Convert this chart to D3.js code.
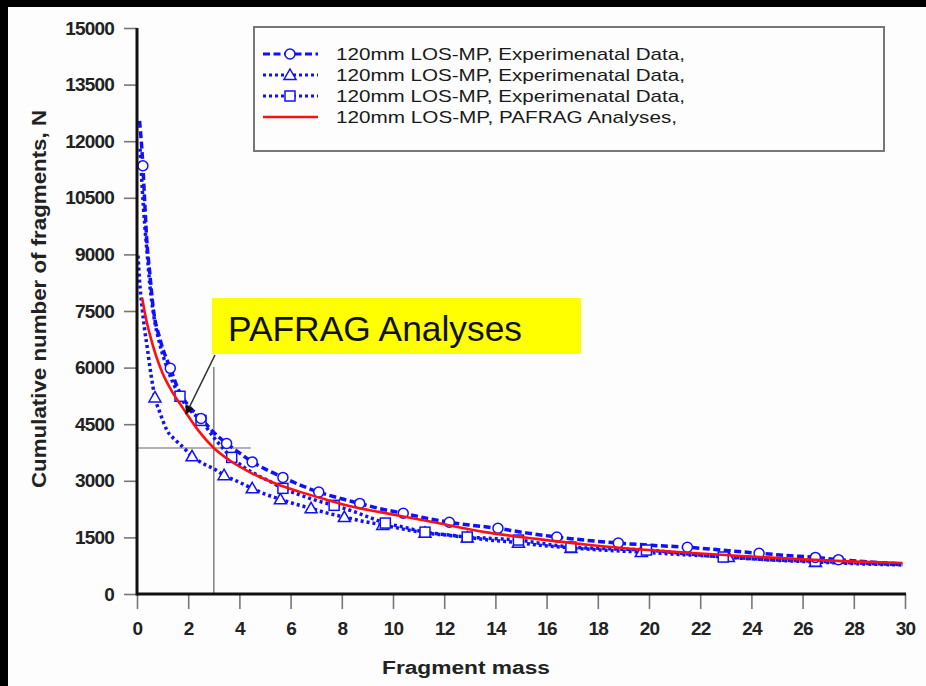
<!DOCTYPE html>
<html>
<head>
<meta charset="utf-8">
<script src="https://cdn.jsdelivr.net/npm/d3@7"></script>
<style>
  body { margin: 0; background: #000; }
  svg { display: block; }
  .tick text { font-family: "Liberation Sans", Arial, sans-serif; font-weight: bold; font-size: 19px; fill: #222; letter-spacing: -0.8px; }
  .tick line { stroke: #777; stroke-width: 1.6; }
  .legend text { font-family: "Liberation Sans", Arial, sans-serif; font-size: 17px; fill: #1a1a1a; }
</style>
</head>
<body>
<svg id="chart" width="926" height="686"></svg>
<script>
// tick labels
var xTicks = [0, 2, 4, 6, 8, 10, 12, 14, 16, 18, 20, 22, 24, 26, 28, 30];
var yTicks = [0, 1500, 3000, 4500, 6000, 7500, 9000, 10500, 12000, 13500, 15000];

// [fragment mass, cumulative N, marker?]
var expCircles = [
  [0.1, 12540, 0], [0.23, 11350, 1], [0.3, 10400, 0], [0.38, 9400, 0], [0.5, 8500, 0],
  [0.63, 7600, 0], [0.9, 6750, 0], [1.3, 5980, 1], [1.7, 5300, 0], [2.0, 5000, 0],
  [2.5, 4650, 1], [3.0, 4280, 0], [3.5, 3990, 1], [4.0, 3740, 0], [4.5, 3500, 1],
  [5.1, 3280, 0], [5.7, 3090, 1], [6.4, 2880, 0], [7.1, 2700, 1], [7.9, 2540, 0],
  [8.7, 2400, 1], [9.5, 2260, 0], [10.4, 2140, 1], [11.3, 2010, 0], [12.2, 1900, 1],
  [13.1, 1820, 0], [14.1, 1740, 1], [15.2, 1620, 0], [16.4, 1510, 1], [17.6, 1420, 0],
  [18.8, 1350, 1], [20.1, 1290, 0], [21.5, 1240, 1], [22.9, 1160, 0], [24.3, 1080, 1],
  [25.4, 1020, 0], [26.5, 970, 1], [27.4, 910, 1], [28.6, 850, 0], [29.8, 800, 0]
];
var expTriangles = [
  [0.04, 8970, 0], [0.1, 8300, 0], [0.2, 7590, 0], [0.3, 7000, 0], [0.4, 6530, 0],
  [0.55, 5800, 0], [0.7, 5210, 1], [0.9, 4800, 0], [1.17, 4340, 0], [1.5, 4080, 0],
  [1.8, 3890, 0], [2.15, 3650, 1], [2.6, 3450, 0], [3.0, 3320, 0], [3.4, 3150, 1],
  [4.0, 2960, 0], [4.5, 2800, 1], [5.0, 2650, 0], [5.6, 2510, 1], [6.2, 2380, 0],
  [6.8, 2270, 1], [7.4, 2150, 0], [8.1, 2040, 1], [8.8, 1930, 0], [9.6, 1830, 1],
  [10.4, 1720, 0], [11.25, 1620, 1], [12.1, 1560, 0], [12.9, 1500, 1], [13.9, 1420, 0],
  [14.9, 1360, 1], [15.9, 1280, 0], [16.95, 1220, 1], [18.3, 1160, 0], [19.7, 1110, 1],
  [21.4, 1040, 0], [23.1, 980, 1], [24.8, 900, 0], [26.5, 850, 1], [28.2, 800, 0],
  [29.9, 770, 0]
];
var expSquares = [
  [0.12, 11800, 0], [0.2, 10800, 0], [0.3, 9800, 0], [0.4, 9000, 0], [0.5, 8200, 0],
  [0.65, 7400, 0], [0.9, 6600, 0], [1.2, 5950, 0], [1.68, 5240, 1], [2.1, 4850, 0],
  [2.5, 4600, 1], [3.0, 4150, 0], [3.7, 3620, 1], [4.2, 3350, 0], [4.7, 3150, 0],
  [5.2, 2980, 0], [5.7, 2800, 1], [6.3, 2640, 0], [7.0, 2480, 0], [7.7, 2350, 1],
  [8.4, 2200, 0], [9.0, 2050, 0], [9.7, 1880, 1], [10.5, 1760, 0], [11.25, 1640, 1],
  [12.1, 1570, 0], [12.9, 1510, 1], [13.9, 1470, 0], [14.9, 1430, 1], [15.9, 1330, 0],
  [16.95, 1245, 1], [18.4, 1200, 0], [19.9, 1165, 1], [21.4, 1070, 0], [22.9, 980, 1],
  [24.7, 910, 0], [26.5, 870, 1], [28.2, 820, 0], [29.9, 780, 0]
];
var pafrag = [
  [0.2, 7850], [0.35, 7300], [0.5, 6880], [0.75, 6300], [1.0, 5850], [1.4, 5330],
  [1.8, 4920], [2.4, 4330], [3.0, 3870], [3.6, 3550], [4.4, 3230], [5.4, 2930],
  [6.4, 2700], [7.4, 2500], [8.3, 2330], [9.5, 2170], [10.2, 2080], [11.9, 1860],
  [13.6, 1640], [15.6, 1460], [17.7, 1300], [19.7, 1180], [21.7, 1085], [23.8, 1000],
  [25.8, 925], [27.8, 865], [29.9, 820]
];
var legendLabels = [
  "120mm LOS-MP, Experimenatal Data,",
  "120mm LOS-MP, Experimenatal Data,",
  "120mm LOS-MP, Experimenatal Data,",
  "120mm LOS-MP, PAFRAG Analyses,"
];
// crosshair read-off point
var readOff = [3, 3870];

var svg = d3.select("#chart");
var font = "'Liberation Sans', Arial, sans-serif";

// white sheet on black frame
svg.append("rect").attr("x", 8).attr("y", 7).attr("width", 918).attr("height", 679).attr("fill", "#fdfdfd");

var x = d3.scaleLinear().domain([0, 30]).range([137, 905]);
var y = d3.scaleLinear().domain([0, 15000]).range([594, 28]);

var blue = "#1010ff";

// axes
svg.append("g")
  .attr("transform", "translate(137,0)")
  .call(d3.axisLeft(y).tickValues(yTicks).tickSize(13).tickPadding(10).tickFormat(d3.format("d")))
  .call(function (g) { g.select(".domain").remove(); });

svg.append("g")
  .attr("transform", "translate(0,594)")
  .call(d3.axisBottom(x).tickValues(xTicks).tickSize(15).tickPadding(13))
  .call(function (g) { g.select(".domain").remove(); });

// crosshair lines
svg.append("line")
  .attr("x1", x(readOff[0])).attr("x2", x(readOff[0]))
  .attr("y1", 367).attr("y2", y(0))
  .attr("stroke", "#888").attr("stroke-width", 1.6);
svg.append("line")
  .attr("x1", x(0)).attr("x2", x(4.45))
  .attr("y1", y(readOff[1])).attr("y2", y(readOff[1]))
  .attr("stroke", "#999").attr("stroke-width", 1.4);

// series
var line = d3.line().curve(d3.curveMonotoneX).x(function (d) { return x(d[0]); }).y(function (d) { return y(d[1]); });

var series = [
  { data: expTriangles, dash: "3,3", shape: "tri" },
  { data: expSquares, dash: "3,3", shape: "sq" },
  { data: expCircles, dash: "7,3.5", shape: "circ" }
];

function drawMarker(g, shape, cx, cy) {
  if (shape === "circ") {
    g.append("circle").attr("cx", cx).attr("cy", cy).attr("r", 5)
      .attr("fill", "#fff").attr("stroke", blue).attr("stroke-width", 1.5);
  } else if (shape === "tri") {
    g.append("path").attr("d", "M" + cx + "," + (cy - 6) + "L" + (cx + 6) + "," + (cy + 4.5) + "L" + (cx - 6) + "," + (cy + 4.5) + "Z")
      .attr("fill", "#fff").attr("stroke", blue).attr("stroke-width", 1.5);
  } else {
    g.append("rect").attr("x", cx - 5).attr("y", cy - 5).attr("width", 10).attr("height", 10)
      .attr("fill", "#fff").attr("stroke", blue).attr("stroke-width", 1.5);
  }
}

series.forEach(function (s) {
  svg.append("path").datum(s.data)
    .attr("d", line)
    .attr("fill", "none")
    .attr("stroke", blue)
    .attr("stroke-width", 3.5)
    .attr("stroke-dasharray", s.dash);
});
series.forEach(function (s) {
  var g = svg.append("g");
  s.data.filter(function (d) { return d[2]; }).forEach(function (d) {
    drawMarker(g, s.shape, x(d[0]), y(d[1]));
  });
});

svg.append("path").datum(pafrag)
  .attr("d", line)
  .attr("fill", "none")
  .attr("stroke", "#ff1010")
  .attr("stroke-width", 2.6);

// axis lines
svg.append("line").attr("x1", x(0)).attr("x2", x(0)).attr("y1", y(15000)).attr("y2", y(0) + 1.5)
  .attr("stroke", "#111").attr("stroke-width", 3);
svg.append("line").attr("x1", x(0)).attr("x2", x(30) + 1).attr("y1", y(0)).attr("y2", y(0))
  .attr("stroke", "#111").attr("stroke-width", 3);

// axis titles
svg.append("text")
  .attr("x", 466).attr("y", 674)
  .attr("text-anchor", "middle")
  .attr("font-family", font).attr("font-weight", "bold").attr("font-size", 18)
  .attr("fill", "#222")
  .attr("textLength", 168).attr("lengthAdjust", "spacingAndGlyphs")
  .text("Fragment mass");

svg.append("text")
  .attr("transform", "translate(46,299) rotate(-90)")
  .attr("text-anchor", "middle")
  .attr("font-family", font).attr("font-weight", "bold").attr("font-size", 20)
  .attr("fill", "#222")
  .attr("textLength", 378).attr("lengthAdjust", "spacingAndGlyphs")
  .text("Cumulative number of fragments, N");

// legend
var lg = svg.append("g").attr("class", "legend");
lg.append("rect").attr("x", 254).attr("y", 27).attr("width", 630).attr("height", 124)
  .attr("fill", "#fdfdfd").attr("stroke", "#777").attr("stroke-width", 2);

var legendStyle = [
  { dash: "7,3.5", shape: "circ", color: blue },
  { dash: "3,3", shape: "tri", color: blue },
  { dash: "3,3", shape: "sq", color: blue },
  { dash: null, shape: null, color: "#ff1010" }
];
legendLabels.forEach(function (lab, i) {
  var cy = 54 + i * 21;
  var st = legendStyle[i];
  var ln = lg.append("line").attr("x1", 263).attr("x2", 318).attr("y1", cy).attr("y2", cy)
    .attr("stroke", st.color).attr("stroke-width", st.dash ? 3 : 2.5);
  if (st.dash) ln.attr("stroke-dasharray", st.dash);
  if (st.shape) drawMarker(lg, st.shape, 290, cy);
  lg.append("text").attr("x", 336).attr("y", cy + 6)
    .attr("textLength", i === 3 ? 341 : 349).attr("lengthAdjust", "spacingAndGlyphs")
    .text(lab);
});

// annotation
svg.append("rect").attr("x", 212).attr("y", 298).attr("width", 369).attr("height", 56)
  .attr("fill", "#ffff00");
svg.append("text").attr("x", 228).attr("y", 341)
  .attr("font-family", font).attr("font-size", 35).attr("fill", "#111")
  .attr("textLength", 294).attr("lengthAdjust", "spacingAndGlyphs")
  .text("PAFRAG Analyses");

svg.append("defs").append("marker")
  .attr("id", "arrow").attr("viewBox", "0 0 10 10").attr("refX", 9).attr("refY", 5)
  .attr("markerWidth", 9).attr("markerHeight", 9).attr("markerUnits", "userSpaceOnUse")
  .attr("orient", "auto")
  .append("path").attr("d", "M0,0L10,5L0,10Z").attr("fill", "#111");
svg.append("line").attr("x1", 215).attr("y1", 355).attr("x2", 186).attr("y2", 414)
  .attr("stroke", "#333").attr("stroke-width", 1.6).attr("marker-end", "url(#arrow)");
</script>
</body>
</html>
